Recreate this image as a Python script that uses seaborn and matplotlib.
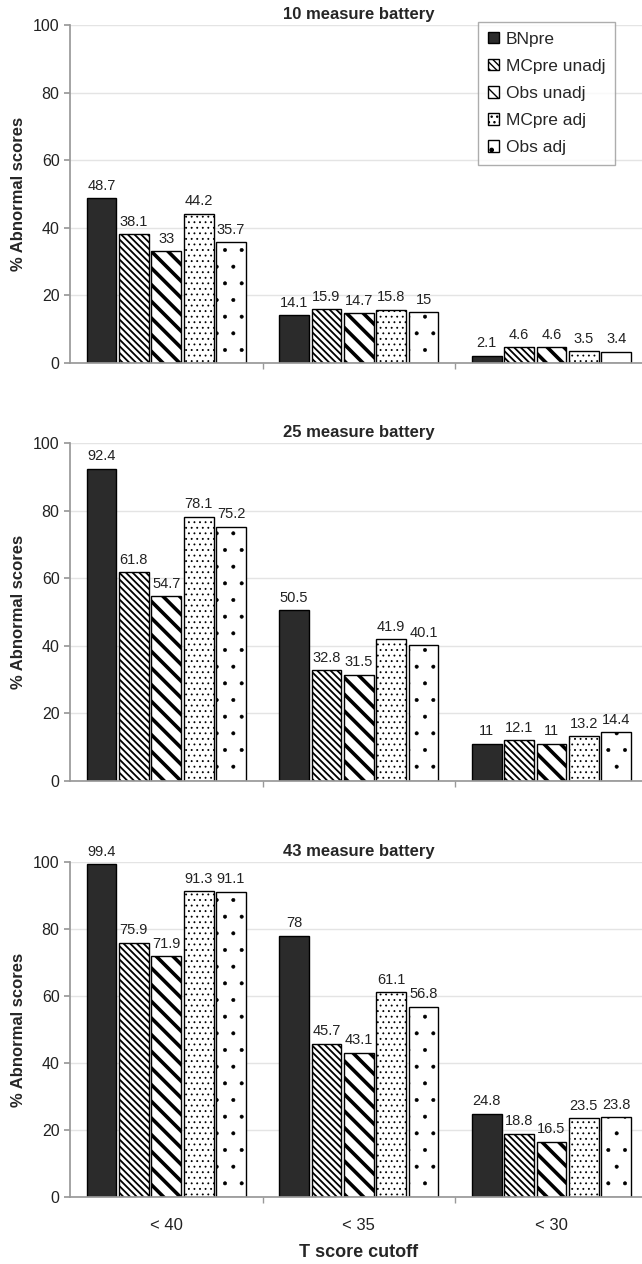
import pandas as pd
import seaborn as sns
import matplotlib.pyplot as plt
from matplotlib.patches import Patch

cutoffs = ["< 40", "< 35", "< 30"]
series = ["BNpre", "MCpre unadj", "Obs unadj", "MCpre adj", "Obs adj"]
titles = ["10 measure battery", "25 measure battery", "43 measure battery"]

# values per battery: rows = cutoff, cols = series
vals_10 = [[48.7, 38.1, 33, 44.2, 35.7],
           [14.1, 15.9, 14.7, 15.8, 15],
           [2.1, 4.6, 4.6, 3.5, 3.4]]
vals_25 = [[92.4, 61.8, 54.7, 78.1, 75.2],
           [50.5, 32.8, 31.5, 41.9, 40.1],
           [11, 12.1, 11, 13.2, 14.4]]
vals_43 = [[99.4, 75.9, 71.9, 91.3, 91.1],
           [78, 45.7, 43.1, 61.1, 56.8],
           [24.8, 18.8, 16.5, 23.5, 23.8]]

sns.set_theme(style="white")
plt.rcParams['font.family'] = ['Liberation Sans', 'DejaVu Sans']
plt.rcParams['hatch.linewidth'] = 1.0

face = ["#2b2b2b", "white", "white", "white", "white"]
hatches = [None, "\\\\\\\\\\", "\\\\", "...", "."]
hatch_lw = [1.0, 1.3, 2.6, 0.6, 0.4]

fig = plt.figure(figsize=(6.42, 12.64), dpi=100)
# axes positions [left, bottom, width, height] in figure fraction
boxes = [[0.109, 0.7128, 0.9, 0.2674],
         [0.109, 0.3821, 0.9, 0.2674],
         [0.109, 0.0530, 0.9, 0.2650]]

for i, (vals, title) in enumerate(zip([vals_10, vals_25, vals_43], titles)):
    rows = []
    for c, row in zip(cutoffs, vals):
        for s, v in zip(series, row):
            rows.append({"cutoff": c, "series": s, "value": v})
    df = pd.DataFrame(rows)
    ax = fig.add_axes(boxes[i])
    sns.barplot(data=df, x="cutoff", y="value", hue="series", order=cutoffs,
                hue_order=series, width=0.84, gap=0.08, ax=ax, legend=False,
                edgecolor="black", linewidth=1.0)
    for k, cont in enumerate(ax.containers):
        for p in cont:
            p.set_facecolor(face[k])
            p.set_edgecolor("black")
            if hatches[k]:
                p.set_hatch(hatches[k])
                try:
                    p.set_hatch_linewidth(hatch_lw[k])
                except AttributeError:
                    pass
        ax.bar_label(cont, fmt="%g", padding=4, fontsize=10.5, color="#222222")
    ax.set_ylim(0, 100)
    ax.set_yticks([0, 20, 40, 60, 80, 100])
    ax.tick_params(axis="y", labelsize=11.5, length=4, color="#999999", left=True,
                   labelcolor="#222222")
    ax.yaxis.grid(True, color="#e4e4e4", linewidth=1)
    ax.set_axisbelow(True)
    ax.set_xlim(-0.5, 2.5)
    ax.set_xticks([0.5, 1.5], minor=True)
    ax.tick_params(axis="x", which="minor", length=4, color="#999999", bottom=True)
    ax.tick_params(axis="x", which="major", length=0, labelsize=12, pad=15,
                   labelcolor="#222222")
    for s in ["top", "right"]:
        ax.spines[s].set_visible(False)
    for s in ["left", "bottom"]:
        ax.spines[s].set_color("#999999")
    ax.set_ylabel("% Abnormal scores", fontsize=12, fontweight="bold", labelpad=5)
    ax.set_title(title, fontsize=12, fontweight="bold", pad=4)
    if i < 2:
        ax.set_xticklabels([])
        ax.set_xlabel("")
    else:
        ax.set_xlabel("T score cutoff", fontsize=13, fontweight="bold", labelpad=8)
    if i == 0:
        handles = []
        for k in range(5):
            h = Patch(facecolor=face[k], edgecolor="black", hatch=hatches[k])
            handles.append(h)
        leg = ax.legend(handles, series, loc="upper right",
                        bbox_to_anchor=(0.943, 1.009), borderaxespad=0,
                        fontsize=12.5, handlelength=0.65, handleheight=0.65,
                        handletextpad=0.4, labelspacing=0.7, borderpad=0.55,
                        frameon=True, fancybox=False, edgecolor="#999999")
        leg.get_frame().set_linewidth(1)

fig.savefig("out.png", dpi=100)
